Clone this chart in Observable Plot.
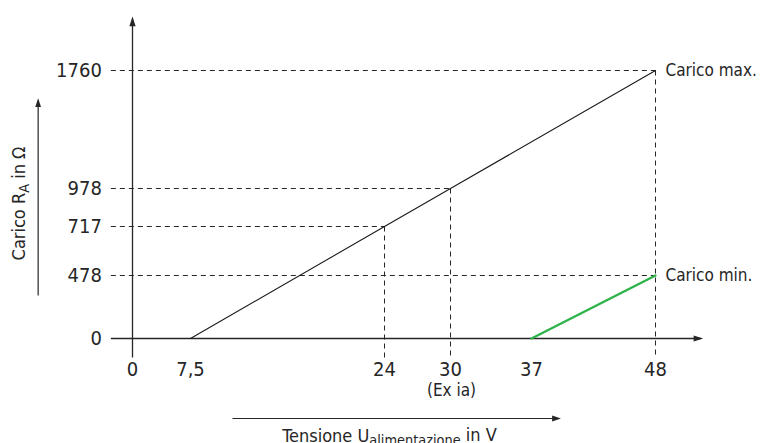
<!DOCTYPE html>
<html><head><meta charset="utf-8">
<script src="https://cdn.jsdelivr.net/npm/d3@7"></script>
<script src="https://cdn.jsdelivr.net/npm/@observablehq/plot@0.6"></script>
<style>
body{margin:0;background:#fff}
svg{font-stretch:condensed}
</style>
</head><body><div id="chart"></div>
<script>
// --- data ---
const xTicks = [0, 7.5, 24, 30, 37, 48];
const xTickLabels = ["0", "7,5", "24", "30", "37", "48"];
const yTicks = [0, 478, 717, 978, 1760];
const yTickLabels = ["0", "478", "717", "978", "1760"];

// Carico max. (black line)
const maxU = [7.5, 24, 30, 48];
const maxR = [0, 717, 978, 1760];
// Carico min. (green line)
const minU = [37, 48];
const minR = [0, 478];

// dashed guide points
const guideHU = [48, 30, 24, 48];
const guideHR = [1760, 978, 717, 478];
const guideVU = [24, 30, 48];
const guideVR = [717, 978, 1760];

const seriesLabels = ["Carico max.", "Carico min."];
const seriesLabelU = [48, 48];
const seriesLabelR = [1760, 478];

const xTitle = "Tensione U_alimentazione in V";
const yTitle = "Carico R_A in Ω";
const note30 = "(Ex ia)";

// axis extents (data units, beyond the ticks)
const xAxisFrom = -2.8, xAxisTo = 52.0;
const yAxisFrom = -144, yAxisTo = 2100;

const maxData = maxU.map((u, i) => ({u, r: maxR[i]}));
const minData = minU.map((u, i) => ({u, r: minR[i]}));
const hGuides = guideHU.map((u, i) => ({u, r: guideHR[i]}));
const vGuides = guideVU.map((u, i) => ({u, r: guideVR[i]}));
const xTickData = xTicks.map((u, i) => ({u, label: xTickLabels[i]}));
const yTickData = yTicks.map((r, i) => ({r, label: yTickLabels[i]}));
const labelData = seriesLabels.map((t, i) => ({t, u: seriesLabelU[i], r: seriesLabelR[i]}));

const ink = "#262626";
const font = "'DejaVu Sans Condensed', 'DejaVu Sans', sans-serif";

// the reference is schematic: ticks are not proportionally spaced,
// so positions go through a piecewise-linear transform before the scale
const xPiece = d3.scaleLinear(xTicks, [132, 190, 384, 450, 531, 655]);
const yPiece = d3.scaleLinear(yTicks, [338, 275, 226, 188, 70]);

const svg = Plot.plot({
  width: 762, height: 443, margin: 0,
  x: {transform: xPiece, domain: [0, 762], range: [0, 762], axis: null},
  y: {transform: yPiece, domain: [0, 443], range: [0, 443], axis: null},
  style: {fontFamily: font, fontSize: "17px", color: ink, background: "#fff", overflow: "visible"},
  marks: [
    // dashed guides
    Plot.link(hGuides, {x1: xAxisFrom, x2: "u", y1: "r", y2: "r", stroke: ink, strokeWidth: 1, strokeDasharray: "5,4"}),
    Plot.link(vGuides, {x1: "u", x2: "u", y1: "r", y2: yAxisFrom, stroke: ink, strokeWidth: 1, strokeDasharray: "5,4"}),
    // axes
    Plot.link([0], {x1: xAxisFrom, x2: xAxisTo, y1: 0, y2: 0, stroke: ink, strokeWidth: 1.3, markerEnd: "arrow"}),
    Plot.link([0], {x1: 0, x2: 0, y1: yAxisFrom, y2: yAxisTo, stroke: ink, strokeWidth: 1.3, markerEnd: "arrow"}),
    // series
    Plot.line(maxData, {x: "u", y: "r", stroke: "#1a1a1a", strokeWidth: 1.1}),
    Plot.line(minData, {x: "u", y: "r", stroke: "#2db34a", strokeWidth: 2.4}),
    // tick labels
    Plot.text(yTickData, {x: xAxisFrom, y: "r", text: "label", textAnchor: "end", dx: -9, fontSize: 20, fill: ink}),
    Plot.text(xTickData, {x: "u", y: 0, text: "label", dy: 31, fontSize: 20, fill: ink}),
    Plot.text([note30], {x: 30, y: 0, text: d => d, dy: 52, dx: 1, fontSize: 17, fill: ink}),
    // series labels
    Plot.text(labelData, {x: "u", y: "r", text: "t", textAnchor: "start", dx: 10, fontSize: 17, fill: ink}),
    // axis titles with arrows
    Plot.link([0], {x1: 11.07, x2: 39.4, y1: -607, y2: -607, stroke: ink, strokeWidth: 1.2, markerEnd: "arrow"}),
    Plot.text([xTitle], {frameAnchor: "bottom", dx: 8, dy: -2, text: d => d, fontSize: 18, fill: ink}),
    Plot.link([0], {x1: -12.2, x2: -12.2, y1: 326, y2: 1560, stroke: ink, strokeWidth: 1.2, markerEnd: "arrow"}),
    Plot.text([yTitle], {x: -14.6, y: 875, rotate: -90, text: d => d, fontSize: 18, fill: ink})
  ]
});

// filled arrowheads
d3.select(svg).selectAll("marker")
  .attr("fill", ink).attr("stroke", "none").attr("overflow", "visible")
  .selectAll("path").attr("d", "M-8,-3.6L3,0L-8,3.6Z");

// subscripts in titles
d3.select(svg).selectAll("text").each(function() {
  const t = this.textContent;
  const m = t.match(/^(.*?)_(\S+)(.*)$/);
  if (!m) return;
  const sel = d3.select(this);
  sel.text("");
  sel.append("tspan").text(m[1]);
  sel.append("tspan").attr("dy", "0.22em").attr("font-size", "0.8em").text(m[2]);
  sel.append("tspan").attr("dy", "-0.22em").text(m[3]);
});

document.getElementById("chart").appendChild(svg);
</script>
</body></html>
